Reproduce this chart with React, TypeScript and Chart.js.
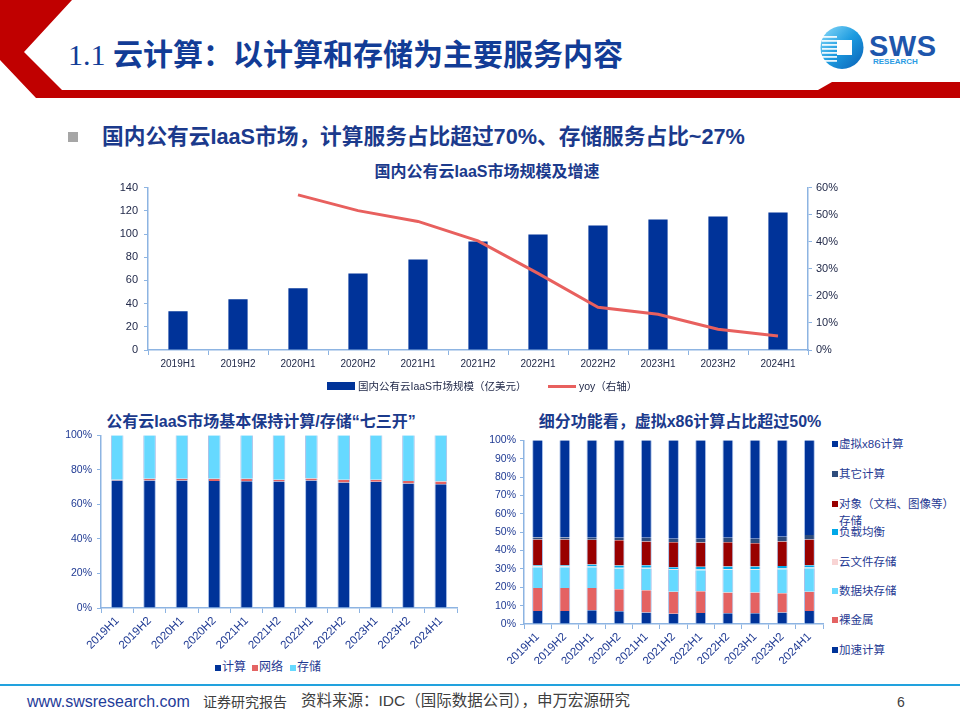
import React, { useEffect, useRef } from "react";
import { Chart, registerables } from "chart.js";
Chart.register(...registerables);

// ---------- data ----------
const periods = ["2019H1", "2019H2", "2020H1", "2020H2", "2021H1", "2021H2", "2022H1", "2022H2", "2023H1", "2023H2", "2024H1"];
const marketSize = [33.5, 43.8, 53.3, 66, 78, 93.5, 99.6, 107.3, 112.5, 115, 118.5];
const marketYoy = [null, null, 57.3, 51.5, 47.5, 40.3, 28.3, 15.8, 13.2, 7.7, 5.2];

const shareCompute = [73.8, 73.8, 73.8, 73.6, 73.4, 73.3, 73.8, 72.7, 73.1, 72.1, 71.7];
const shareNetwork = [0.4, 1.0, 1.0, 1.2, 1.4, 0.9, 1.2, 1.5, 1.1, 1.5, 1.6];
const shareStorage = [25.8, 25.2, 25.2, 25.2, 25.2, 25.8, 25.0, 25.8, 25.8, 26.4, 26.7];

const segAccel = [7.1, 7.1, 7.5, 6.9, 6.2, 5.6, 6.0, 5.8, 5.8, 6.2, 7.1];
const segBareMetal = [12.5, 12.5, 12.1, 12.0, 12.2, 12.0, 11.8, 11.3, 11.3, 10.5, 10.5];
const segBlock = [11.3, 11.3, 11.3, 11.3, 11.8, 11.9, 11.5, 12.4, 12.4, 13.1, 12.8];
const segFile = [0.5, 0.5, 0.4, 0.4, 0.4, 0.4, 0.4, 0.3, 0.3, 0.4, 0.3];
const segLB = [0.6, 0.6, 1.1, 1.2, 1.4, 1.0, 1.4, 1.5, 1.5, 1.4, 1.3];
const segObject = [14.0, 14.0, 13.4, 13.8, 12.9, 13.6, 13.3, 13.2, 12.7, 13.3, 14.0];
const segOtherCompute = [1.1, 1.1, 1.1, 1.3, 2.0, 1.9, 2.0, 2.4, 2.4, 2.6, 2.5];
const segX86 = [52.9, 52.9, 53.1, 53.1, 53.1, 53.6, 53.6, 53.1, 53.6, 52.5, 51.5];

const sizeTickStep = 20;
const sizeMax = 140;
const yoyTickStep = 10;
const yoyMax = 60;

// ---------- styles ----------
const NAVY = "#003399";
const AXIS = "#8DB4E2";
const TXT_BLUE = "#1B3A8C";
const LATIN = "'Liberation Sans', Arial, 'Noto Sans CJK SC', sans-serif";
const CJK = "'Liberation Sans', 'Noto Sans CJK SC', sans-serif";

const C = {
  accel: "#003399",
  bare: "#E46262",
  block: "#66D9FF",
  file: "#F8D4D4",
  lb: "#00A8E8",
  object: "#990000",
  other: "#2E4C7C",
  x86: "#003399",
};

function fixW(w: number) {
  return (s: any) => { s.width = w; };
}
function fixH(h: number) {
  return (s: any) => { s.height = h; };
}

export default function App() {
  const c1 = useRef<HTMLCanvasElement>(null);
  const c2 = useRef<HTMLCanvasElement>(null);
  const c3 = useRef<HTMLCanvasElement>(null);

  useEffect(() => {
    document.body.style.margin = "0";
    const charts: Chart[] = [];
    const xFont = { family: LATIN, size: 11.5 };

    charts.push(new Chart(c1.current!, {
      type: "bar",
      data: {
        labels: periods,
        datasets: [
          {
            type: "line",
            label: "yoy（右轴）",
            data: marketYoy as any,
            yAxisID: "y2",
            borderColor: "#E8605E",
            backgroundColor: "#E8605E",
            borderWidth: 3,
            pointRadius: 0,
            tension: 0,
            order: 0,
          } as any,
          {
            type: "bar",
            label: "国内公有云IaaS市场规模（亿美元）",
            data: marketSize,
            yAxisID: "y",
            backgroundColor: NAVY,
            barPercentage: 0.32,
            categoryPercentage: 1,
            order: 1,
          },
        ],
      },
      options: {
        animation: false,
        responsive: false,
        layout: { padding: { top: 7, left: 0, right: 0, bottom: 0 } },
        plugins: { legend: { display: false }, tooltip: { enabled: false } },
        scales: {
          x: {
            afterFit: fixH(30),
            grid: { drawOnChartArea: false, drawTicks: true, tickLength: 5, color: AXIS, offset: true },
            border: { color: AXIS, width: 1.5 },
            ticks: { font: { family: LATIN, size: 10 }, color: "#222a4a", padding: 3 },
          },
          y: {
            position: "left",
            min: 0, max: sizeMax,
            afterFit: fixW(48),
            grid: { drawOnChartArea: false, tickLength: 4, color: AXIS },
            border: { color: AXIS, width: 1.5 },
            ticks: { stepSize: sizeTickStep, font: { family: LATIN, size: 11 }, color: "#222a4a", padding: 6 },
          },
          y2: {
            position: "right",
            min: 0, max: yoyMax,
            afterFit: fixW(52),
            grid: { drawOnChartArea: false, tickLength: 4, color: AXIS },
            border: { color: AXIS, width: 1.5 },
            ticks: { stepSize: yoyTickStep, font: { family: LATIN, size: 11 }, color: "#222a4a", padding: 4, callback: (v: any) => v + "%" },
          },
        },
      },
    }));

    const edge = { left: 1, right: 1, top: 0, bottom: 0 };
    const edgeColor = "rgba(160,185,230,0.9)";
    const mk = (label: string, data: number[], color: string) => ({
      label, data, backgroundColor: color, borderColor: edgeColor, borderWidth: edge,
      borderSkipped: false, barPercentage: 0.39, categoryPercentage: 1,
    });

    charts.push(new Chart(c2.current!, {
      type: "bar",
      data: {
        labels: periods,
        datasets: [
          mk("计算", shareCompute, NAVY),
          mk("网络", shareNetwork, "#E46464"),
          mk("存储", shareStorage, "#66D9FF"),
        ] as any,
      },
      options: {
        animation: false,
        responsive: false,
        layout: { padding: { top: 8, right: 8, left: 0, bottom: 0 } },
        plugins: { legend: { display: false }, tooltip: { enabled: false } },
        scales: {
          x: {
            stacked: true,
            afterFit: fixH(42),
            grid: { drawOnChartArea: false, tickLength: 5, color: AXIS, offset: true },
            border: { color: AXIS, width: 1.5 },
            ticks: { font: xFont, color: "#1F3A93", minRotation: 45, maxRotation: 45, autoSkip: false, padding: 1 },
          },
          y: {
            stacked: true, min: 0, max: 100,
            afterFit: fixW(51),
            grid: { drawOnChartArea: false, tickLength: 4, color: AXIS },
            border: { color: AXIS, width: 1.5 },
            ticks: { stepSize: 20, font: { family: LATIN, size: 10.5 }, color: "#1F3A93", padding: 5, callback: (v: any) => v + "%" },
          },
        },
      },
    }));

    const mk3 = (label: string, data: number[], color: string) => ({
      label, data, backgroundColor: color, borderColor: edgeColor, borderWidth: edge,
      borderSkipped: false, barPercentage: 0.4, categoryPercentage: 1,
    });

    charts.push(new Chart(c3.current!, {
      type: "bar",
      data: {
        labels: periods,
        datasets: [
          mk3("加速计算", segAccel, C.accel),
          mk3("裸金属", segBareMetal, C.bare),
          mk3("数据块存储", segBlock, C.block),
          mk3("云文件存储", segFile, C.file),
          mk3("负载均衡", segLB, C.lb),
          mk3("对象（文档、图像等）存储", segObject, C.object),
          mk3("其它计算", segOtherCompute, C.other),
          mk3("虚拟x86计算", segX86, C.x86),
        ] as any,
      },
      options: {
        animation: false,
        responsive: false,
        layout: { padding: { top: 8, right: 7, left: 0, bottom: 0 } },
        plugins: { legend: { display: false }, tooltip: { enabled: false } },
        scales: {
          x: {
            stacked: true,
            afterFit: fixH(40),
            grid: { drawOnChartArea: false, tickLength: 5, color: AXIS, offset: true },
            border: { color: AXIS, width: 1.5 },
            ticks: { font: xFont, color: "#1F3A93", minRotation: 45, maxRotation: 45, autoSkip: false, padding: 1 },
          },
          y: {
            stacked: true, min: 0, max: 100,
            afterFit: fixW(49),
            grid: { drawOnChartArea: false, tickLength: 4, color: AXIS },
            border: { color: AXIS, width: 1.5 },
            ticks: { stepSize: 10, font: { family: LATIN, size: 10.5 }, color: "#1F3A93", padding: 4, callback: (v: any) => v + "%" },
          },
        },
      },
    }));

    return () => { charts.forEach((c) => c.destroy()); };
  }, []);

  const abs = (l: number, t: number, extra: React.CSSProperties = {}): React.CSSProperties => ({
    position: "absolute", left: l, top: t, ...extra,
  });

  const legend3 = [
    { t: "虚拟x86计算", y: 444, c: C.x86 },
    { t: "其它计算", y: 474, c: C.other },
    { t: "对象（文档、图像等）", y: 504, c: C.object },
    { t: "负载均衡", y: 532, c: C.lb },
    { t: "云文件存储", y: 562, c: C.file },
    { t: "数据块存储", y: 591, c: C.block },
    { t: "裸金属", y: 620, c: C.bare },
    { t: "加速计算", y: 650, c: C.accel },
  ];

  return (
    <div style={{ position: "absolute", left: 0, top: 0, width: 960, height: 720, overflow: "hidden", background: "#fff" }}>
      {/* header graphics */}
      <svg width={960} height={110} style={abs(0, 0)}>
        <polygon points="0,0 72,0 24,52 62,90 818,90 832,82 960,82 960,98 36,98 0,60" fill="#C00000" />
        <defs>
          <linearGradient id="lg" x1="0" y1="0" x2="1" y2="1">
            <stop offset="0" stopColor="#8FDcFA" />
            <stop offset="0.5" stopColor="#1C9BE0" />
            <stop offset="1" stopColor="#0A5FB5" />
          </linearGradient>
        </defs>
        <circle cx={842} cy={47.5} r={21.5} fill="url(#lg)" />
        {[36, 40, 44, 48, 52, 56, 60].map((y) => (
          <rect key={y} x={822} y={y} width={15} height={1.8} fill="#ffffff" opacity={0.9} />
        ))}
        <rect x={837} y={40} width={15} height={15} fill="#ffffff" />
        <text x={869} y={56} fontFamily={LATIN} fontWeight={700} fontSize={29} letterSpacing={0.5} fill="#1E56AC">SWS</text>
        <text x={873} y={64} fontFamily={LATIN} fontWeight={700} fontSize={8} fill="#2B9BE3">RESEARCH</text>
      </svg>

      <div style={abs(68, 36, { fontSize: 30, lineHeight: "32px", color: "#123C96", fontWeight: 700, whiteSpace: "nowrap", fontFamily: "'Liberation Serif', 'Noto Sans CJK SC', serif" })}>
        <span style={{ fontWeight: 400 }}>1.1 </span>
        <span style={{ fontFamily: "'Noto Sans CJK SC', sans-serif" }}>云计算：以计算和存储为主要服务内容</span>
      </div>

      <div style={abs(68, 132, { width: 10, height: 10, background: "#A6A6A6" })} />
      <div style={abs(102, 125, { fontSize: 21.7, lineHeight: "24px", color: TXT_BLUE, fontWeight: 700, whiteSpace: "nowrap", fontFamily: CJK })}>
        国内公有云IaaS市场，计算服务占比超过70%、存储服务占比~27%
      </div>

      {/* chart 1 */}
      <div style={abs(287, 162, { width: 400, textAlign: "center", fontSize: 16, lineHeight: "20px", fontWeight: 700, color: TXT_BLUE, fontFamily: CJK, whiteSpace: "nowrap" })}>
        国内公有云IaaS市场规模及增速
      </div>
      <canvas ref={c1} width={760} height={205} style={abs(100, 175, { width: 760, height: 205 })} />
      <div style={abs(327, 382, { width: 28, height: 8, background: NAVY })} />
      <div style={abs(358, 379, { fontSize: 10.5, lineHeight: "14px", color: "#222a4a", fontFamily: CJK, whiteSpace: "nowrap" })}>国内公有云IaaS市场规模（亿美元）</div>
      <div style={abs(548, 384.5, { width: 28, height: 3, background: "#E8605E" })} />
      <div style={abs(579, 379, { fontSize: 10.5, lineHeight: "14px", color: "#222a4a", fontFamily: CJK, whiteSpace: "nowrap" })}>yoy（右轴）</div>

      {/* chart 2 */}
      <div style={abs(61, 412, { width: 400, textAlign: "center", fontSize: 16, lineHeight: "20px", fontWeight: 700, color: TXT_BLUE, fontFamily: CJK, whiteSpace: "nowrap" })}>
        公有云IaaS市场基本保持计算/存储“七三开”
      </div>
      <canvas ref={c2} width={415} height={226} style={abs(50, 424, { width: 415, height: 226 })} />
      {[
        { t: "计算", x: 215, c: NAVY },
        { t: "网络", x: 252, c: "#E46464" },
        { t: "存储", x: 290, c: "#66D9FF" },
      ].map((it) => (
        <div key={it.t} style={abs(it.x, 660, { display: "flex", alignItems: "center", fontSize: 12, lineHeight: "15px", color: "#1F3A93", fontFamily: CJK, whiteSpace: "nowrap" })}>
          <span style={{ display: "inline-block", width: 6, height: 6, background: it.c, marginRight: 1 }} />
          {it.t}
        </div>
      ))}

      {/* chart 3 */}
      <div style={abs(480, 412, { width: 400, textAlign: "center", fontSize: 16, lineHeight: "20px", fontWeight: 700, color: TXT_BLUE, fontFamily: CJK, whiteSpace: "nowrap" })}>
        细分功能看，虚拟x86计算占比超过50%
      </div>
      <canvas ref={c3} width={355} height={234} style={abs(475, 430, { width: 355, height: 234 })} />
      {legend3.map((it) => (
        <div key={it.t} style={abs(832, it.y - 8, { display: "flex", alignItems: "center", fontSize: 11.5, lineHeight: "16px", color: "#1F3A93", fontFamily: CJK, whiteSpace: "nowrap" })}>
          <span style={{ display: "inline-block", width: 6, height: 6, background: it.c, marginRight: 1 }} />
          {it.t}
        </div>
      ))}
      <div style={abs(839, 513, { fontSize: 11.5, lineHeight: "16px", color: "#1F3A93", fontFamily: CJK })}>存储</div>

      {/* footer */}
      <div style={abs(0, 684, { width: 960, height: 2, background: "#22A2DE" })} />
      <div style={abs(27, 693, { fontSize: 16, lineHeight: "18px", color: "#1F3C99", fontFamily: "'Liberation Sans Narrow', 'Liberation Sans', Arial, sans-serif", whiteSpace: "nowrap" })}>www.swsresearch.com</div>
      <div style={abs(203, 693, { fontSize: 14, lineHeight: "18px", color: "#404040", fontFamily: CJK, whiteSpace: "nowrap" })}>证券研究报告</div>
      <div style={abs(301, 692, { fontSize: 15.5, lineHeight: "18px", color: "#404040", fontFamily: CJK, whiteSpace: "nowrap" })}>资料来源：IDC（国际数据公司），申万宏源研究</div>
      <div style={abs(897, 693, { fontSize: 14, lineHeight: "18px", color: "#404040", fontFamily: LATIN })}>6</div>
    </div>
  );
}
